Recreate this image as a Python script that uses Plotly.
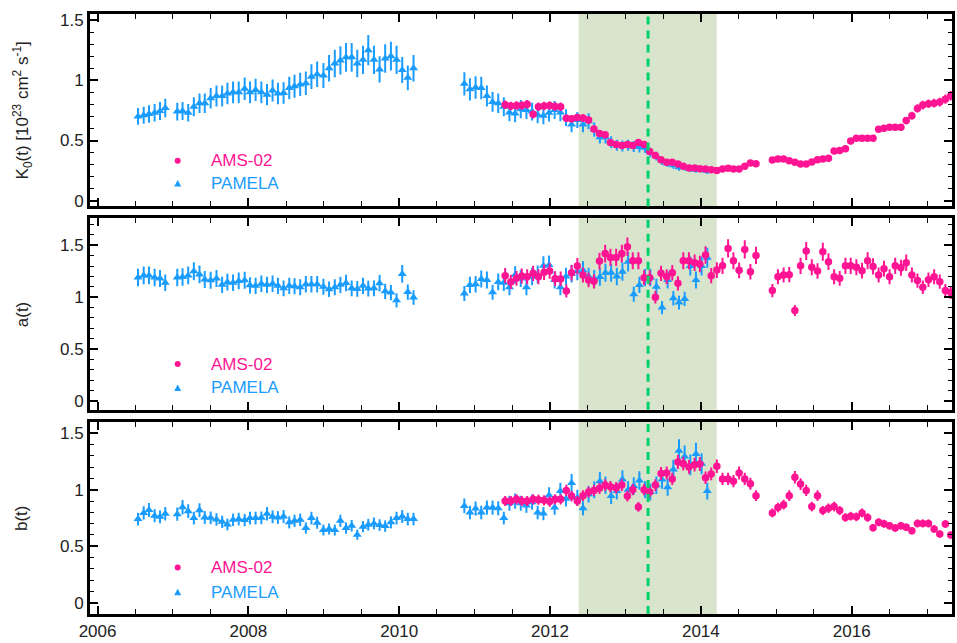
import plotly.graph_objects as go

# ---------------- data ----------------
pam_t = [2006.537, 2006.612, 2006.682, 2006.757, 2006.828, 2006.898,
         2007.057, 2007.127, 2007.202, 2007.277, 2007.352, 2007.422, 2007.500, 2007.577, 2007.652, 2007.722,
         2007.797, 2007.872, 2007.951, 2008.022, 2008.096, 2008.172, 2008.247, 2008.321, 2008.392, 2008.467,
         2008.542, 2008.612, 2008.687, 2008.762, 2008.836, 2008.912, 2008.995, 2009.070, 2009.146, 2009.220,
         2009.295, 2009.370, 2009.444, 2009.520, 2009.590, 2009.665, 2009.740, 2009.814, 2009.890, 2009.965,
         2010.040, 2010.114, 2010.190,
         2010.864, 2010.938, 2011.013, 2011.088, 2011.163, 2011.238, 2011.313, 2011.387, 2011.462, 2011.537,
         2011.612, 2011.687, 2011.762, 2011.836, 2011.912, 2011.987, 2012.061, 2012.137, 2012.212, 2012.286,
         2012.362, 2012.437, 2012.511, 2012.586, 2012.661, 2012.735, 2012.810, 2012.886, 2012.960, 2013.035,
         2013.110, 2013.185, 2013.260, 2013.330, 2013.410, 2013.485, 2013.560, 2013.635, 2013.710, 2013.785,
         2013.860, 2013.935, 2014.010, 2014.085]

pam_k0 = [0.70, 0.71, 0.72, 0.73, 0.745, 0.77,
          0.74, 0.745, 0.73, 0.78, 0.81, 0.81, 0.85, 0.87, 0.87, 0.89,
          0.90, 0.90, 0.93, 0.90, 0.92, 0.90, 0.88, 0.915, 0.89, 0.895,
          0.935, 0.95, 0.965, 0.975, 1.03, 1.05, 1.04, 1.10, 1.14, 1.165,
          1.19, 1.19, 1.14, 1.17, 1.25, 1.17, 1.09, 1.18, 1.20, 1.17,
          1.085, 1.02, 1.10,
          0.97, 0.925, 0.94, 0.935, 0.87, 0.82, 0.81, 0.78, 0.733, 0.725,
          0.76, 0.753, 0.74, 0.714, 0.706, 0.73, 0.753, 0.733, 0.69, 0.632,
          0.67, 0.632, 0.66, 0.59, 0.527, 0.527, 0.486, 0.46, 0.455, 0.46,
          0.45, 0.445, 0.44, 0.40, 0.37, 0.33, 0.31, 0.294, 0.277, 0.277,
          0.266, 0.258, 0.26, 0.247]

pam_a = [1.19, 1.21, 1.21, 1.19, 1.18, 1.14,
         1.19, 1.195, 1.21, 1.25, 1.22, 1.17, 1.163, 1.18, 1.12, 1.145,
         1.14, 1.157, 1.163, 1.115, 1.11, 1.13, 1.12, 1.13, 1.11, 1.086,
         1.11, 1.105, 1.096, 1.125, 1.125, 1.125, 1.10, 1.077, 1.096, 1.12,
         1.137, 1.086, 1.08, 1.11, 1.083, 1.086, 1.134, 1.057, 1.045, 0.97,
         1.224, 1.05, 0.997,
         1.035, 1.118, 1.125, 1.176, 1.166, 1.048, 1.147, 1.14, 1.095, 1.214,
         1.18, 1.095, 1.20, 1.22, 1.303, 1.31, 1.166, 1.095, 1.20, 1.227,
         1.25, 1.26, 1.20, 1.18, 1.195, 1.236, 1.236, 1.20, 1.246, 1.342,
         1.029, 1.118, 1.19, 1.19, 1.10, 0.90, 1.166, 0.99, 0.949, 0.984,
         1.30, 1.166, 1.30, 1.38]

pam_b = [0.74, 0.795, 0.82, 0.77, 0.76, 0.787,
         0.784, 0.845, 0.81, 0.749, 0.819, 0.754, 0.751, 0.737, 0.716, 0.693,
         0.734, 0.74, 0.731, 0.749, 0.749, 0.751, 0.787, 0.76, 0.754, 0.763,
         0.711, 0.725, 0.734, 0.661, 0.749, 0.708, 0.643, 0.652, 0.643, 0.725,
         0.661, 0.681, 0.602, 0.673, 0.69, 0.702, 0.687, 0.678, 0.711, 0.749,
         0.763, 0.74, 0.74,
         0.857, 0.798, 0.833, 0.798, 0.842, 0.842, 0.836, 0.749, 0.88, 0.90,
         0.88, 0.86, 0.89, 0.798, 0.789, 0.95, 0.842, 0.988, 0.92, 1.06,
         0.93, 0.836, 0.96, 1.0, 1.076, 1.04, 0.944, 0.988, 1.09, 1.0,
         1.032, 1.082, 1.0, 0.98, 1.04, 1.09, 1.023, 1.178, 1.345, 1.295,
         1.22, 1.316, 1.23, 0.988]

ams_t = [2011.405, 2011.480, 2011.555, 2011.625, 2011.697, 2011.776, 2011.846, 2011.921, 2011.995, 2012.067,
         2012.141, 2012.216, 2012.286, 2012.362, 2012.437, 2012.511, 2012.582, 2012.656, 2012.731, 2012.801,
         2012.877, 2012.952, 2013.026,
         2013.097, 2013.172, 2013.247, 2013.322, 2013.397, 2013.472, 2013.547, 2013.621, 2013.696, 2013.767,
         2013.842, 2013.917, 2013.987, 2014.062, 2014.137, 2014.212, 2014.287, 2014.361, 2014.432, 2014.507,
         2014.582, 2014.657, 2014.731,
         2014.948, 2015.022, 2015.097, 2015.172, 2015.247, 2015.322, 2015.397, 2015.471, 2015.547, 2015.617,
         2015.692, 2015.767, 2015.841, 2015.917, 2015.987, 2016.062, 2016.137, 2016.211, 2016.283, 2016.357,
         2016.428, 2016.502, 2016.577, 2016.653, 2016.723, 2016.798, 2016.872, 2016.943, 2017.018, 2017.093,
         2017.168, 2017.242, 2017.313]

ams_k0 = [0.797, 0.786, 0.79, 0.79, 0.80, 0.717, 0.78, 0.786, 0.79, 0.783,
          0.78, 0.684, 0.68, 0.69, 0.687, 0.67, 0.596, 0.558, 0.547, 0.483,
          0.467, 0.459, 0.467,
          0.459, 0.484, 0.467, 0.409, 0.376, 0.341, 0.319, 0.319, 0.305, 0.286,
          0.272, 0.272, 0.266, 0.264, 0.258, 0.25, 0.264, 0.269, 0.264, 0.264,
          0.286, 0.313, 0.308,
          0.338, 0.346, 0.346, 0.332, 0.319, 0.305, 0.305, 0.321, 0.341, 0.346,
          0.352, 0.412, 0.418, 0.431, 0.495, 0.519, 0.519, 0.519, 0.519, 0.593,
          0.602, 0.61, 0.61, 0.61, 0.665, 0.706, 0.766, 0.794, 0.805, 0.81,
          0.819, 0.843, 0.871]

ams_a = [1.208, 1.147, 1.182, 1.204, 1.198, 1.23, 1.198, 1.24, 1.252, 1.179,
         1.176, 1.06, 1.236, 1.30, 1.214, 1.166, 1.153, 1.348, 1.42, 1.383,
         1.383, 1.42, 1.486,
         1.351, 1.351, 1.188, 1.188, 1.0, 1.23, 1.198, 1.236, 1.134, 1.351,
         1.351, 1.332, 1.32, 1.406, 1.208, 1.262, 1.303, 1.47, 1.351, 1.259,
         1.46, 1.246, 1.403,
         1.064, 1.198, 1.214, 1.217, 0.872, 1.303, 1.444, 1.288, 1.252, 1.438,
         1.342, 1.198, 1.182, 1.303, 1.303, 1.288, 1.256, 1.351, 1.297, 1.214,
         1.275, 1.198, 1.303, 1.284, 1.332, 1.214, 1.16, 1.096, 1.169, 1.198,
         1.15, 1.064, 1.045]

ams_b = [0.90, 0.90, 0.915, 0.90, 0.90, 0.915, 0.912, 0.906, 0.895, 0.915,
         0.915, 0.994, 0.944, 0.90, 0.947, 0.98, 0.994, 1.012, 1.041, 1.026,
         1.018, 1.041, 0.944,
         1.0, 0.848, 1.0, 0.98, 1.041, 1.143, 1.149, 1.096, 1.246, 1.231,
         1.202, 1.222, 1.228, 1.105, 1.14, 1.208, 1.096, 1.096, 1.076, 1.149,
         1.096, 1.053, 0.947,
         0.795, 0.842, 0.868, 0.947, 1.111, 1.05, 0.994, 0.851, 0.947, 0.816,
         0.836, 0.851, 0.816, 0.754, 0.766, 0.76, 0.795, 0.754, 0.664, 0.711,
         0.699, 0.681, 0.661, 0.681, 0.667, 0.637, 0.702, 0.702, 0.702, 0.652,
         0.608, 0.696, 0.599]

# relative error-bar sizes (percent) per panel: (PAMELA, AMS-02)
err_pct = {"k0": (10, 4.5), "a": (7, 6), "b": (7.5, 5)}

shade_span = [2012.38, 2014.21]   # highlighted period
dash_year = 2013.30               # vertical dashed marker

y_titles = ["K<sub>0</sub>(t) [10<sup>23</sup> cm<sup>2</sup> s<sup>-1</sup>]", "a(t)", "b(t)"]
series_names = ["AMS-02", "PAMELA"]

# ---------------- style ----------------
PINK = "#ff1493"
BLUE = "#1a9cff"
SHADE = "#d9e4cd"
GREEN = "#00d26a"
FONT = "Liberation Sans, Arial, sans-serif"
W, H = 957, 643
L, R, T, B = 90, 2, 14, 24
PW, PH = W - L - R, H - T - B

panels_px = [(14, 208), (220, 413), (425, 619)]   # top/bottom pixel of each frame
def dom(p):
    top, bot = p
    return [(H - B - bot) / PH, (H - B - top) / PH]

yranges = [[-0.047, 1.55], [-0.083, 1.76], [-0.1, 1.603]]

fig = go.Figure()
panel_data = [(pam_k0, ams_k0, "k0"), (pam_a, ams_a, "a"), (pam_b, ams_b, "b")]

for i, (pv, av, key) in enumerate(panel_data):
    xa = "x" if i == 0 else f"x{i+1}"
    ya = "y" if i == 0 else f"y{i+1}"
    pe, ae = err_pct[key]
    fig.add_trace(go.Scatter(
        x=pam_t, y=pv, xaxis=xa, yaxis=ya, mode="markers", name="PAMELA", showlegend=False,
        marker=dict(symbol="triangle-up", size=8, color=BLUE),
        error_y=dict(type="percent", value=pe, color=BLUE, thickness=2, width=0)))
    fig.add_trace(go.Scatter(
        x=ams_t, y=av, xaxis=xa, yaxis=ya, mode="markers", name="AMS-02", showlegend=False,
        marker=dict(symbol="circle", size=7.5, color=PINK),
        error_y=dict(type="percent", value=ae, color=PINK, thickness=2, width=0)))

axis_common = dict(showline=True, linewidth=3, linecolor="black", mirror="ticks",
                   ticks="inside", tickcolor="black", showgrid=False, zeroline=False,
                   tickfont=dict(family=FONT, size=17, color="#222"))

layout = dict(width=W, height=H, margin=dict(l=L, r=R, t=T, b=B),
              paper_bgcolor="white", plot_bgcolor="white", showlegend=False,
              font=dict(family=FONT, size=17, color="#222"))

for i in range(3):
    xk = "xaxis" if i == 0 else f"xaxis{i+1}"
    yk = "yaxis" if i == 0 else f"yaxis{i+1}"
    ya = "y" if i == 0 else f"y{i+1}"
    xa = "x" if i == 0 else f"x{i+1}"
    layout[xk] = dict(axis_common, domain=[0, 1], anchor=ya, range=[2005.9, 2017.33],
                      tick0=2006, dtick=2, ticklen=8, tickwidth=1.5, tickformat="d",
                      showticklabels=(i == 2),
                      minor=dict(dtick=0.5, ticklen=5, tickwidth=1.2, ticks="inside", tickcolor="black"))
    if i > 0:
        layout[xk]["matches"] = "x"
    layout[yk] = dict(axis_common, domain=dom(panels_px[i]), anchor=xa, range=yranges[i],
                      tick0=0, dtick=0.5, ticklen=8, tickwidth=1.5,
                      minor=dict(dtick=0.1, ticklen=4, tickwidth=1.2, ticks="inside", tickcolor="black"))

fig.update_layout(**layout)

shapes = []
annotations = []
legend_px = [(162, 185), (367, 391), (572, 597)]
for i in range(3):
    xa = "x" if i == 0 else f"x{i+1}"
    ya = "y" if i == 0 else f"y{i+1}"
    shapes.append(dict(type="rect", xref=xa, yref=f"{ya} domain", x0=shade_span[0], x1=shade_span[1],
                       y0=0, y1=1, fillcolor=SHADE, line=dict(width=0), layer="below"))
    shapes.append(dict(type="line", xref=xa, yref=f"{ya} domain", x0=dash_year, x1=dash_year,
                       y0=0, y1=1, line=dict(color=GREEN, width=3, dash="8px,6px"), layer="above"))
    # y-axis title
    top, bot = panels_px[i]
    annotations.append(dict(text=y_titles[i], textangle=-90, xref="paper", yref="paper",
                            x=(22 - L) / PW, y=(H - B - (top + bot) / 2) / PH,
                            xanchor="center", yanchor="middle", showarrow=False,
                            font=dict(family=FONT, size=17, color="#222")))
    # legend (manual)
    ya_px, yb_px = legend_px[i]
    mx = (178 - L) / PW
    py_a = (H - B - ya_px) / PH
    py_b = (H - B - yb_px) / PH
    shapes.append(dict(type="circle", xref="paper", yref="paper", xsizemode="pixel", ysizemode="pixel",
                       xanchor=mx, yanchor=py_a, x0=-3, x1=3, y0=-3, y1=3,
                       fillcolor=PINK, line=dict(width=0)))
    shapes.append(dict(type="path", xref="paper", yref="paper", xsizemode="pixel", ysizemode="pixel",
                       xanchor=mx, yanchor=py_b, path="M -3.5 -3 L 3.5 -3 L 0 3.5 Z",
                       fillcolor=BLUE, line=dict(width=0)))
    for name, py, col in [(series_names[0], py_a, PINK), (series_names[1], py_b, BLUE)]:
        annotations.append(dict(text=name, xref="paper", yref="paper", x=(209 - L) / PW, y=py,
                                xanchor="left", yanchor="middle", showarrow=False,
                                font=dict(family=FONT, size=17, color=col)))

fig.update_layout(shapes=shapes, annotations=annotations)
fig.write_html("out.html")
